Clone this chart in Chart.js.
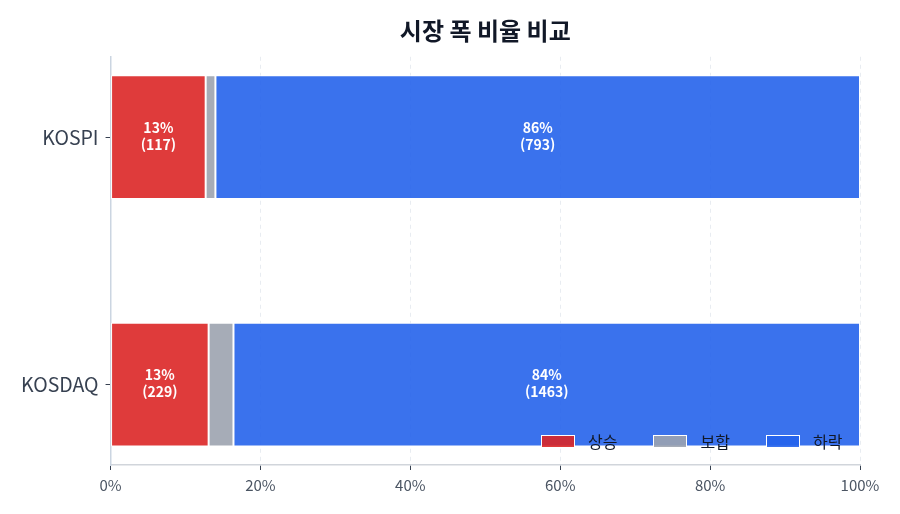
<!DOCTYPE html>
<html lang="ko">
<head>
    <meta charset="UTF-8">
    <title>시장 폭 비율 비교</title>
    <style>
        body {
            margin: 0;
            background: #ffffff;
            font-family: "Noto Sans CJK KR", "Noto Sans", sans-serif;
        }
        .wrap {
            position: relative;
            width: 900px;
            height: 514px;
        }
        #legend {
            position: absolute;
            left: 541px;
            top: 430px;
            display: flex;
            white-space: nowrap;
            font-size: 16px;
            line-height: 22px;
            color: #111827;
        }
        .legend-item {
            display: flex;
            align-items: center;
            margin-right: 36px;
        }
        .legend-box {
            display: inline-block;
            width: 32px;
            height: 11px;
            border: 1px solid #ffffff;
            margin-right: 13px;
        }
    </style>
</head>
<body>
    <div class="wrap">
        <canvas id="chart"></canvas>
        <div id="legend"></div>
    </div>

    <script src="https://cdn.jsdelivr.net/npm/chart.js"></script>
    <script>
        // 시장별 상승/보합/하락 종목 수
        const markets = ['KOSPI', 'KOSDAQ'];
        const upCounts = [117, 229];
        const flatCounts = [12, 58];
        const downCounts = [793, 1463];
        const seriesNames = ['상승', '보합', '하락'];
        const seriesColors = ['rgba(220, 38, 38, 0.9)', 'rgba(156, 163, 175, 0.9)', 'rgba(37, 99, 235, 0.9)'];
        const xTicks = [0, 20, 40, 60, 80, 100];

        const totals = markets.map((m, i) => upCounts[i] + flatCounts[i] + downCounts[i]);
        const seriesCounts = [upCounts, flatCounts, downCounts];

        const datasets = seriesCounts.map((counts, s) => ({
            label: seriesNames[s],
            data: counts.map((c, i) => ({ x: c / totals[i] * 100, y: i })),
            counts: counts,
            backgroundColor: seriesColors[s],
            borderColor: '#ffffff',
            borderWidth: 1,
            borderSkipped: false,
            categoryPercentage: 1,
            barPercentage: 0.5
        }));

        // 막대 안에 비율과 종목 수 표시
        const barLabels = {
            id: 'barLabels',
            afterDraw(chart) {
                const ctx = chart.ctx;
                ctx.save();
                ctx.fillStyle = '#ffffff';
                ctx.font = 'bold 14px "Noto Sans CJK KR", sans-serif';
                ctx.textAlign = 'center';
                ctx.textBaseline = 'middle';
                chart.data.datasets.forEach((ds, d) => {
                    const meta = chart.getDatasetMeta(d);
                    meta.data.forEach((bar, i) => {
                        const pct = ds.data[i].x;
                        if (pct < 5) return;
                        const cx = (bar.x + bar.base) / 2;
                        ctx.fillText(Math.round(pct) + '%', cx, bar.y - 10);
                        ctx.fillText('(' + ds.counts[i] + ')', cx, bar.y + 7);
                    });
                });
                ctx.restore();
            }
        };

        new Chart(document.getElementById('chart'), {
            type: 'bar',
            data: { datasets: datasets },
            plugins: [barLabels],
            options: {
                indexAxis: 'y',
                responsive: true,
                maintainAspectRatio: false,
                animation: false,
                layout: {
                    padding: { left: 14, right: 40, top: 16, bottom: 14 }
                },
                plugins: {
                    legend: { display: false },
                    tooltip: { enabled: false },
                    title: {
                        display: true,
                        text: '시장 폭 비율 비교',
                        fullSize: false,
                        color: '#111827',
                        font: { family: '"Noto Sans CJK KR", sans-serif', size: 24, weight: 'bold' },
                        padding: { top: 0, bottom: 12 }
                    }
                },
                scales: {
                    x: {
                        type: 'linear',
                        stacked: true,
                        min: 0,
                        max: 100,
                        z: 1,
                        afterBuildTicks: (scale) => { scale.ticks = xTicks.map(v => ({ value: v })); },
                        ticks: {
                            callback: (v) => v + '%',
                            color: '#4b5563',
                            padding: 6,
                            font: { family: '"Noto Sans CJK KR", sans-serif', size: 15 }
                        },
                        grid: {
                            color: 'rgba(203, 213, 225, 0.45)',
                            tickColor: '#374151',
                            tickLength: 5,
                            tickBorderDash: []
                        },
                        border: { color: '#d1d5db', width: 1.5, dash: [4, 4] }
                    },
                    y: {
                        type: 'linear',
                        stacked: true,
                        reverse: true,
                        offset: false,
                        min: -0.325,
                        max: 1.325,
                        afterBuildTicks: (scale) => { scale.ticks = markets.map((m, i) => ({ value: i })); },
                        ticks: {
                            callback: (v) => markets[v],
                            color: '#374151',
                            padding: 7,
                            font: { family: '"Noto Sans CJK KR", sans-serif', size: 19.5 }
                        },
                        grid: {
                            offset: false,
                            drawOnChartArea: false,
                            tickColor: '#374151',
                            tickLength: 5
                        },
                        border: { color: '#cbd5e1', width: 1.5 }
                    }
                }
            }
        });

        // 범례
        const legend = document.getElementById('legend');
        seriesNames.forEach((name, s) => {
            const item = document.createElement('div');
            item.className = 'legend-item';
            item.innerHTML = `<span class="legend-box" style="background:${seriesColors[s]}"></span><span>${name}</span>`;
            legend.appendChild(item);
        });
    </script>
</body>
</html>
